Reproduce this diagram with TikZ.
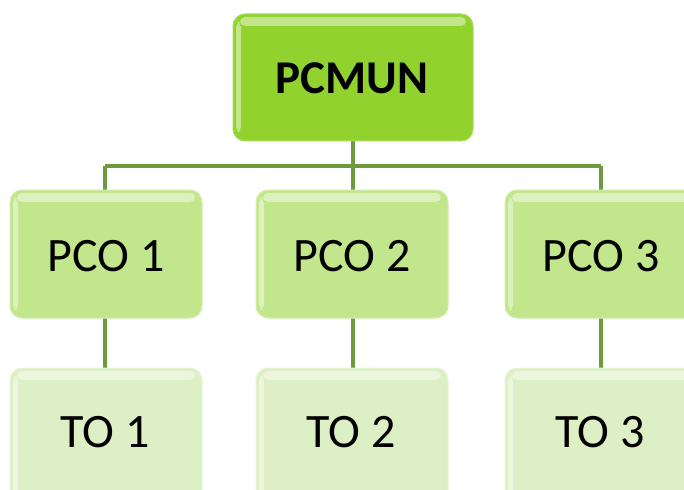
\documentclass[tikz,border=0pt]{standalone}
\usepackage{fontspec}
\setmainfont{Carlito}
\begin{document}
\begin{tikzpicture}[x=1pt,y=-1pt,
  conn/.style={draw=linegreen,line width=3.2pt},
  topbox/.style={fill=topgreen,draw=topgreen!80!white,line width=1pt,rounded corners=12pt},
  midbox/.style={fill=midgreen,draw=midgreen!70!white,line width=1pt,rounded corners=12pt},
  lowbox/.style={fill=lowgreen,draw=lowgreen!70!white,line width=1pt,rounded corners=12pt},
  gloss/.style={fill=white,opacity=0.45,rounded corners=5pt},
  lbl/.style={font=\fontsize{48}{52}\selectfont,text=black,inner sep=0pt}]
\definecolor{topgreen}{HTML}{92D22F}
\definecolor{midgreen}{HTML}{C2E68B}
\definecolor{lowgreen}{HTML}{DDEFC5}
\definecolor{linegreen}{HTML}{6B9B3C}
\useasboundingbox (0,0) rectangle (684,489);
\clip (0,0) rectangle (684,489);
% coordinates
\coordinate (hl) at (105,166);
\coordinate (hr) at (601,166);
\coordinate (hm) at (353,166);
% connectors (drawn first, boxes cover the ends)
\draw[conn] (hl) -- (hr);
\draw[conn] (353,135) -- (hm);
\draw[conn] (hl) -- (105,195);
\draw[conn] (hm) -- (353,195);
\draw[conn] (hr) -- (601,195);
\draw[conn] (105,315) -- (105,372);
\draw[conn] (353,315) -- (353,372);
\draw[conn] (601,315) -- (601,372);
% top box
\path[topbox] (233,14) rectangle (473,141);
\path[gloss] (240,17) rectangle (466,26);
\path[gloss] (236,22) rectangle (241,132);
\node[lbl,font=\fontsize{47}{52}\selectfont\bfseries] (pcmun) at (352,78) {PCMUN};
% middle boxes
\foreach \cx/\n in {106/1,352/2,601/3}{
  \path[midbox] (\cx-96,190) rectangle (\cx+96,318);
  \path[gloss] (\cx-89,193) rectangle (\cx+89,202);
  \path[gloss] (\cx-93,198) rectangle (\cx-88,310);
  \node[lbl] (pco\n) at (\cx,256) {PCO \n};
  \path[lowbox] (\cx-96,368) rectangle (\cx+96,505);
  \path[gloss] (\cx-89,371) rectangle (\cx+89,380);
  \path[gloss] (\cx-93,376) rectangle (\cx-88,500);
  \node[lbl] (to\n) at (\cx-1,432) {TO \n};
}
\end{tikzpicture}
\end{document}
